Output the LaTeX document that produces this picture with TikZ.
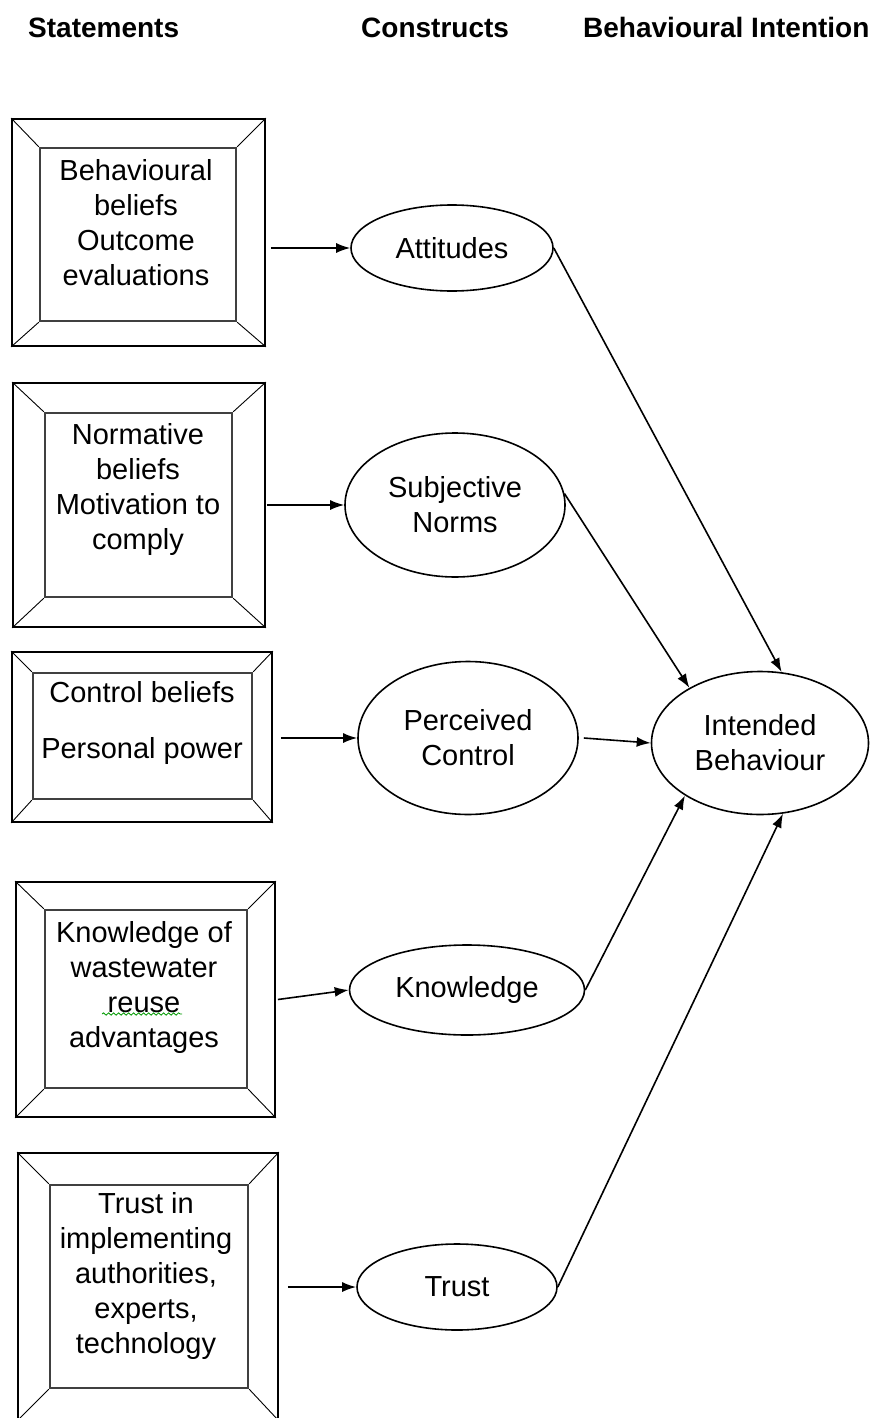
\documentclass[tikz,border=0pt]{standalone}
\usepackage{fontspec}
\setmainfont{Liberation Sans}
\usepackage{tikz}
\usetikzlibrary{shapes.geometric,arrows.meta,decorations.pathmorphing}

\begin{document}
\begin{tikzpicture}[x=1pt,y=-1pt,
  every node/.style={font=\fontsize{29}{35}\selectfont,align=center,inner sep=0pt},
  head/.style={font=\fontsize{28}{32}\selectfont\bfseries,anchor=base west},
  outerbox/.style={draw,line width=1.8pt},
  innerbox/.style={draw=black!75,line width=2.4pt},
  construct/.style={draw,ellipse,line width=1.6pt},
  arr/.style={-{Latex[length=14pt,width=10pt]},line width=1.6pt},
  spell/.style={green!60!black,line width=0.8pt,decorate,
    decoration={snake,amplitude=1.2pt,segment length=5pt}}]
  \useasboundingbox (0,0) rectangle (879,1418);

  % column headings
  \node[head] (hstat) at (28,38) {Statements};
  \node[head] (hcons) at (361,38) {Constructs};
  \node[head] (hbi) at (583,38) {Behavioural Intention};

  % statement boxes
  \node[outerbox,minimum width=253,minimum height=227] (s1-out) at (138.5,232.5) {};
  \node[innerbox,minimum width=196,minimum height=173] (s1-in) at (138,234.5) {};
  \node (s1) at (136,223) {Behavioural\\beliefs\\Outcome\\evaluations};

  \node[outerbox,minimum width=252,minimum height=244] (s2-out) at (139,505) {};
  \node[innerbox,minimum width=187,minimum height=184] (s2-in) at (138.5,505) {};
  \node (s2) at (138,489) {Normative\\beliefs\\Motivation to\\comply};

  \node[outerbox,minimum width=260,minimum height=170] (s3-out) at (142,737) {};
  \node[innerbox,minimum width=219,minimum height=126] (s3-in) at (142.5,736) {};
  \node (s3) at (142,723) {Control beliefs\\[21pt]Personal power};

  \node[outerbox,minimum width=259,minimum height=235] (s4-out) at (145.5,999.5) {};
  \node[innerbox,minimum width=202,minimum height=178] (s4-in) at (146,999) {};
  \node (s4) at (144,987) {Knowledge of\\wastewater\\reuse\\advantages};
  \coordinate (reuse) at (102,1014);
  \draw[spell] (reuse) -- ++(80,0);

  \node[outerbox,minimum width=260,minimum height=267] (s5-out) at (148,1286.5) {};
  \node[innerbox,minimum width=198,minimum height=203] (s5-in) at (149,1286.5) {};
  \node (s5) at (146,1276) {Trust in\\implementing\\authorities,\\experts,\\technology};

  \foreach \b in {s1,s2,s3,s4,s5}
    \foreach \a in {north west,north east,south west,south east}
      \draw[line width=0.9pt] (\b-out.\a) -- (\b-in.\a);

  % constructs
  \node[construct,minimum width=202,minimum height=86] (att) at (452,248) {Attitudes};
  \node[construct,minimum width=220,minimum height=144] (sn) at (455,505) {Subjective\\Norms};
  \node[construct,minimum width=220,minimum height=153] (pc) at (468,738) {Perceived\\Control};
  \node[construct,minimum width=235,minimum height=90] (kn) at (467,990) {Knowledge};
  \node[construct,minimum width=200,minimum height=86] (tr) at (457,1287) {Trust};

  % behavioural intention
  \node[construct,minimum width=217,minimum height=143] (ib) at (760,743) {Intended\\Behaviour};

  % statements -> constructs
  \draw[arr] ([xshift=5pt]s1-out.east |- att.west) -- (att.west);
  \draw[arr] ([xshift=1pt]s2-out.east |- sn.west) -- (sn.west);
  \draw[arr] ([xshift=8pt]s3-out.east |- pc.west) -- (pc.west);
  \draw[arr] ([xshift=2pt]s4-out.east) -- (kn.west);
  \draw[arr] ([xshift=9pt]s5-out.east |- tr.west) -- (tr.west);

  % constructs -> intention
  \draw[arr] (att.east) -- (ib.73);
  \draw[arr] (sn.6) -- (ib.142);
  \draw[arr] ([xshift=5pt]pc.east) -- (ib.west);
  \draw[arr] (kn.east) -- (ib.215);
  \draw[arr] (tr.east) -- (ib.288);
\end{tikzpicture}
\end{document}
